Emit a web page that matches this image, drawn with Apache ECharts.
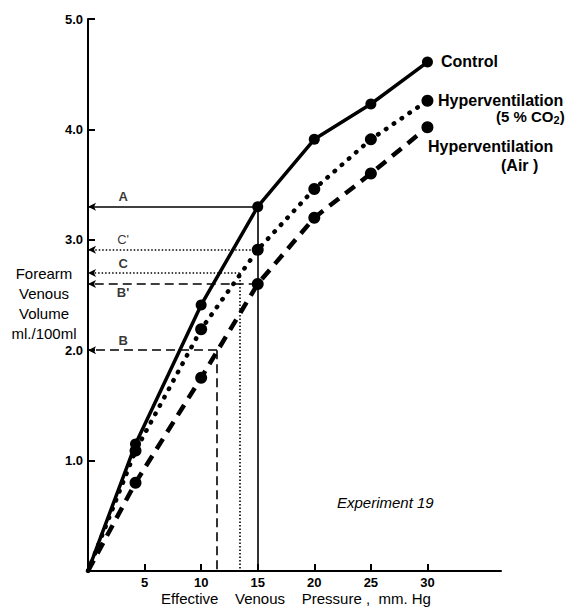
<!DOCTYPE html>
<html>
<head>
<meta charset="utf-8">
<script src="https://cdn.jsdelivr.net/npm/echarts@6.0.0/dist/echarts.min.js"></script>
<style>
html,body{margin:0;padding:0;background:#fff;}
#chart{width:578px;height:607px;}
</style>
</head>
<body>
<div id="chart"></div>
<script>
// ---- data ----
const pressure = [0, 4.2, 10, 15, 20, 25, 30];
const control = [0, 1.15, 2.41, 3.30, 3.91, 4.23, 4.61];
const hyperCO2 = [0, 1.09, 2.19, 2.91, 3.46, 3.91, 4.26];
const hyperAir = [0, 0.80, 1.75, 2.60, 3.20, 3.60, 4.02];

const xTicks = [5, 10, 15, 20, 25, 30];
const yTicks = [1, 2, 3, 4, 5];

// reference read-offs
const refNames = ['A', "C'", 'C', "B'", 'B'];
const refY = [3.30, 2.91, 2.70, 2.60, 2.00];
const refX = [15, 15, 13.4, 15, 11.4];
const refKind = ['solid', 'dotted', 'dotted', 'dashed', 'dashed'];
const refDrop = [true, false, true, false, true];
const refLabelX = 3.1;

const black = '#000';
const font = '"Liberation Sans", Arial, sans-serif';

function seriesData(ys) {
  return pressure.map((x, i) => i === 0 ? { value: [x, ys[i]], symbol: 'none' } : [x, ys[i]]);
}

const refStyles = {
  solid: { type: 'solid', width: 1.6 },
  dotted: { type: [1.5, 2], width: 1.6 },
  dashed: { type: [9, 5], width: 1.6 }
};

const refSeries = ['solid', 'dotted', 'dashed'].map(kind => {
  const lines = [];
  refNames.forEach((n, i) => {
    if (refKind[i] !== kind) return;
    lines.push([
      { coord: [refX[i], refY[i]], symbol: 'none' },
      { coord: [0, refY[i]], symbol: 'arrow', symbolSize: [6, 8] }
    ]);
    if (refDrop[i]) {
      lines.push([
        { coord: [refX[i], refY[i]], symbol: 'none' },
        { coord: [refX[i], 0], symbol: 'none' }
      ]);
    }
  });
  return {
    type: 'line', data: [], silent: true,
    markLine: {
      silent: true, animation: false,
      symbol: ['none', 'none'],
      label: { show: false },
      lineStyle: Object.assign({ color: black }, refStyles[kind]),
      emphasis: { disabled: true },
      data: lines
    }
  };
});

const labelOffsets = { A: -10, "C'": -10, C: -9, "B'": 9, B: -10 };

const chart = echarts.init(document.getElementById('chart'), null, { renderer: 'svg' });
chart.setOption({
  animation: false,
  backgroundColor: '#fff',
  grid: { left: 88, right: 77, top: 19, bottom: 36, containLabel: false, outerBoundsMode: 'none' },
  xAxis: {
    type: 'value', min: 0, max: 36.5,
    splitLine: { show: false },
    axisLine: { lineStyle: { color: black, width: 2 } },
    axisTick: { inside: true, length: 7, lineStyle: { color: black, width: 2 }, customValues: xTicks },
    axisLabel: { customValues: xTicks, color: black, fontFamily: font, fontSize: 13, fontWeight: 'bold',
      margin: 5, lineHeight: 13 }
  },
  yAxis: {
    type: 'value', min: 0, max: 5, interval: 1,
    splitLine: { show: false },
    axisLine: { lineStyle: { color: black, width: 2 } },
    axisTick: { inside: true, length: 7, lineStyle: { color: black, width: 2 }, customValues: yTicks },
    axisLabel: { customValues: yTicks, color: black, fontFamily: font, fontSize: 13, fontWeight: 'bold', margin: 5,
      formatter: v => v.toFixed(1) }
  },
  series: [
    ...refSeries,
    {
      name: 'Control', type: 'line', data: seriesData(control),
      symbol: 'circle', symbolSize: 11, z: 5,
      itemStyle: { color: black },
      lineStyle: { color: black, width: 3.5 }
    },
    {
      name: 'Hyperventilation (5% CO2)', type: 'line', data: seriesData(hyperCO2),
      symbol: 'circle', symbolSize: 12, z: 5,
      itemStyle: { color: black },
      lineStyle: { color: black, width: 4.5, type: [0.5, 9], cap: 'round' }
    },
    {
      name: 'Hyperventilation (Air)', type: 'line', data: seriesData(hyperAir),
      symbol: 'circle', symbolSize: 12, z: 5,
      itemStyle: { color: black },
      lineStyle: { color: black, width: 4.5, type: [12, 8] }
    },
    {
      type: 'scatter', symbolSize: 0, silent: true, z: 6,
      data: refNames.map((n, i) => ({
        name: n, value: [refLabelX, refY[i]],
        label: { offset: [0, labelOffsets[n]], fontWeight: n === "C'" ? 'normal' : 'bold' }
      })),
      label: { show: true, position: 'inside', formatter: '{b}', color: black, fontFamily: font, fontSize: 13 }
    }
  ],
  graphic: [
    { type: 'text', left: 441, top: 53, style: { text: 'Control', font: 'bold 16px ' + font, fill: black } },
    { type: 'text', left: 438, top: 92, style: { text: 'Hyperventilation', font: 'bold 16px ' + font, fill: black } },
    { type: 'text', left: 496, top: 109, style: { text: '(5 % CO{s|2})', font: 'bold 15px ' + font, fill: black,
        rich: { s: { font: 'bold 11px ' + font, fill: black, padding: [6, 0, 0, 0] } } } },
    { type: 'text', left: 428, top: 138, style: { text: 'Hyperventilation', font: 'bold 16px ' + font, fill: black } },
    { type: 'text', left: 501, top: 157, style: { text: '(Air )', font: 'bold 16px ' + font, fill: black } },
    { type: 'text', left: 337, top: 495, style: { text: 'Experiment 19', font: 'italic 15px ' + font, fill: black } },
    { type: 'text', x: 44, y: 263, style: { text: 'Forearm\nVenous\nVolume\nml./100ml', font: '15px ' + font,
        fill: black, align: 'center', lineHeight: 20 } },
    { type: 'text', x: 296, y: 591, style: { text: 'Effective    Venous    Pressure ,  mm. Hg', font: '15px ' + font,
        fill: black, align: 'center', verticalAlign: 'top', lineHeight: 15 } }
  ]
});
</script>
</body>
</html>
